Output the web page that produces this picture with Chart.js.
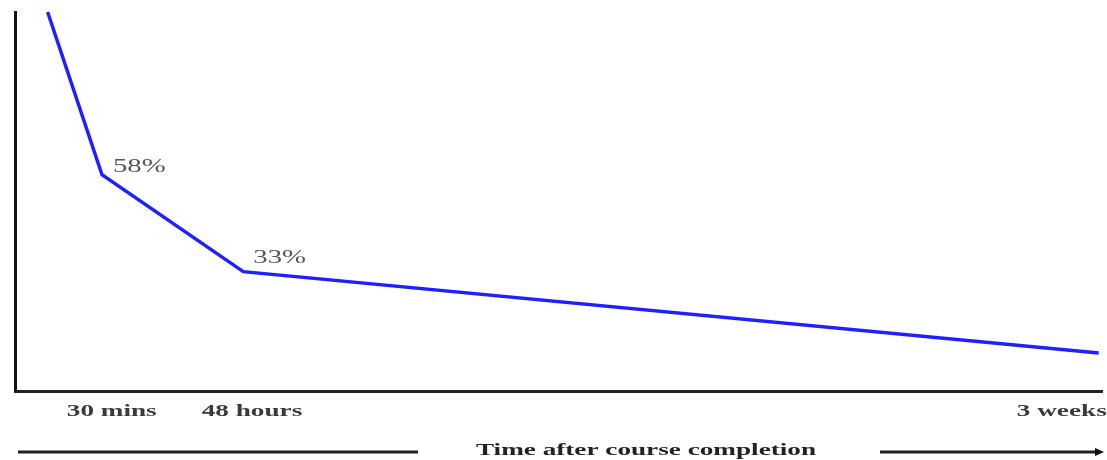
<!DOCTYPE html>
<html>
<head>
<meta charset="utf-8">
<script src="https://cdn.jsdelivr.net/npm/chart.js@4.4.1/dist/chart.umd.min.js"></script>
<style>
  html, body { margin: 0; padding: 0; background: #fff; }
  #wrap { width: 1107px; height: 460px; }
</style>
</head>
<body>
<div id="wrap"><canvas id="chart"></canvas></div>
<script>
// values (x is position along the time axis, 0..100)
var xPos = [3, 8, 21, 99.7]
var retention = [100, 58, 33, 12]
var pointLabels = ['', '58%', '33%', '']
var tickValues = [8.9, 21.8, 96.3]
var tickLabels = ['30 mins', '48 hours', '3 weeks']
var axisTitle = 'Time after course completion'

var pts = xPos.map((x, i) => ({x: x, y: retention[i]}))

var stretch = 1.6  // the original text is drawn wide

function wideText(ctx, txt, x, y, font, color, align) {
  ctx.save()
  ctx.font = font
  ctx.fillStyle = color
  ctx.textAlign = align || 'center'
  ctx.textBaseline = 'middle'
  ctx.translate(x, y)
  ctx.scale(stretch, 1)
  ctx.fillText(txt, 0, 0)
  ctx.restore()
}

const decor = {
  id: 'decor',
  afterDraw(chart) {
    const ctx = chart.ctx
    const xs = chart.scales.x
    const ys = chart.scales.y
    const area = chart.chartArea

    // percent labels next to the line
    const offs = [[0, 0], [11, -7], [10, -13], [0, 0]]
    pointLabels.forEach((t, i) => {
      if (!t) return
      const px = xs.getPixelForValue(xPos[i])
      const py = ys.getPixelForValue(retention[i])
      wideText(ctx, t, px + offs[i][0], py + offs[i][1], '18px "Liberation Serif"', '#555', 'left')
    })

    // tick labels under the axis
    tickValues.forEach((v, i) => {
      wideText(ctx, tickLabels[i], xs.getPixelForValue(v), area.bottom + 21, 'bold 17px "Liberation Serif"', '#3a3a3a')
    })

    // bottom arrow with the title in a gap
    const yy = area.bottom + 61
    const mid = 646
    ctx.save()
    ctx.strokeStyle = '#222'
    ctx.lineWidth = 3
    ctx.beginPath()
    ctx.moveTo(area.left + 3, yy)
    ctx.lineTo(418, yy)
    ctx.moveTo(880, yy)
    ctx.lineTo(area.right - 4, yy)
    ctx.stroke()
    ctx.fillStyle = '#111'
    ctx.beginPath()
    ctx.moveTo(area.right + 2, yy)
    ctx.lineTo(area.right - 7, yy - 4)
    ctx.lineTo(area.right - 7, yy + 4)
    ctx.closePath()
    ctx.fill()
    ctx.restore()
    wideText(ctx, axisTitle, mid, yy - 1, 'bold 17px "Liberation Serif"', '#222')
  }
}

new Chart(document.getElementById('chart'), {
  type: 'line',
  data: {
    datasets: [{
      data: pts,
      borderColor: '#1f1fff',
      borderWidth: 3.5,
      pointRadius: 0,
      tension: 0,
      fill: false,
      clip: 4
    }]
  },
  options: {
    responsive: true,
    maintainAspectRatio: false,
    animation: false,
    layout: { padding: { left: 15, top: 12, right: 5, bottom: 69 } },
    plugins: { legend: { display: false }, tooltip: { enabled: false } },
    scales: {
      x: {
        type: 'linear',
        min: 0,
        max: 100,
        grid: { display: false },
        border: { display: true, color: '#222', width: 3 },
        ticks: { display: false },
        afterFit: s => { s.height = 0; s.paddingLeft = 0; s.paddingRight = 0 }
      },
      y: {
        min: 2.2,
        max: 100,
        grid: { display: false },
        border: { display: true, color: '#111', width: 3 },
        ticks: { display: false },
        afterFit: s => { s.width = 0; s.paddingTop = 0; s.paddingBottom = 0 }
      }
    }
  },
  plugins: [decor]
})
</script>
</body>
</html>
